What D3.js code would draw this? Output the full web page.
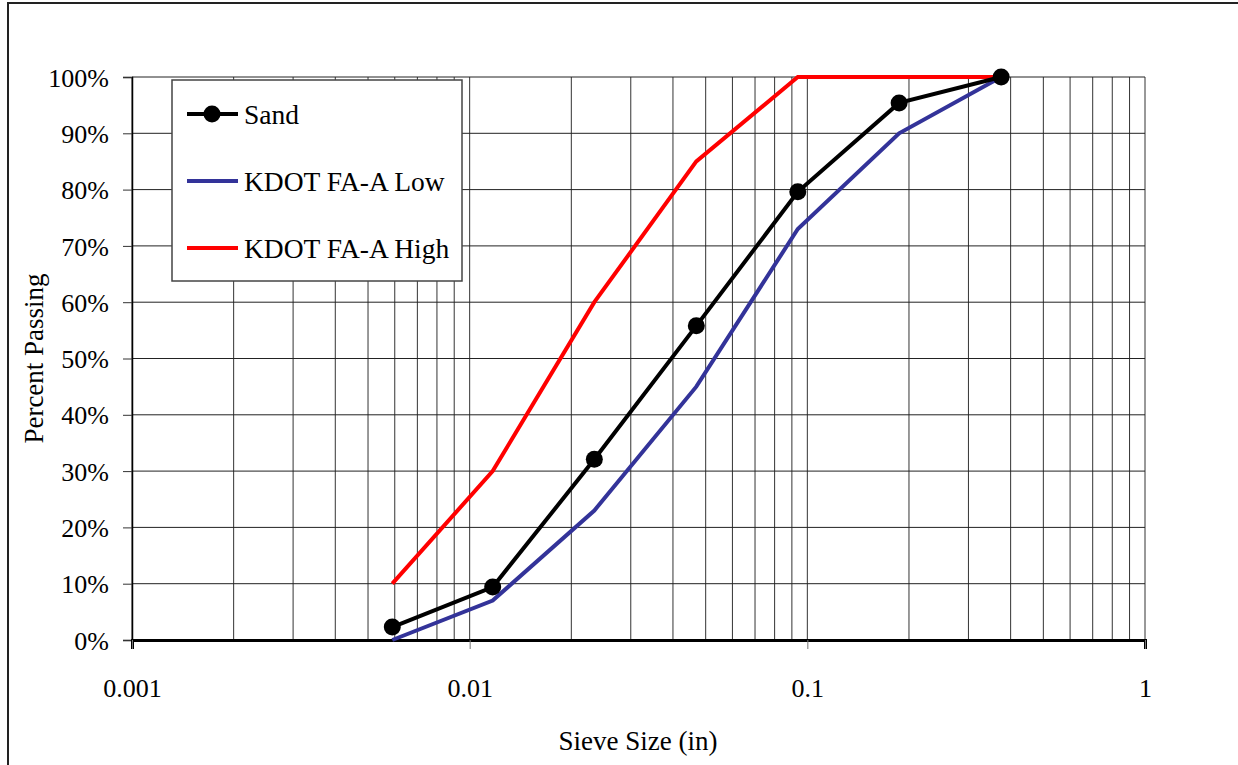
<!DOCTYPE html>
<html>
<head>
<meta charset="utf-8">
<script src="https://cdn.jsdelivr.net/npm/d3@7"></script>
<style>
  body { margin: 0; background: #fff; }
  svg { display: block; font-family: "Liberation Serif", "Times New Roman", serif; }
</style>
</head>
<body>
<svg id="chart" width="1238" height="765"></svg>
<script>
// sieve openings, inches (3/8", #4, #8, #16, #30, #50, #100)
const sieves = [0.375, 0.187, 0.0937, 0.0469, 0.0234, 0.0117, 0.0059]
const sand = [100, 95.4, 79.6, 55.8, 32.1, 9.4, 2.3]
const faLow = [100, 90, 73, 45, 23, 7, 0]
const faHigh = [100, 100, 100, 85, 60, 30, 10]
const yTicks = [0, 10, 20, 30, 40, 50, 60, 70, 80, 90, 100]
const xMajor = [0.001, 0.01, 0.1, 1]
const xLabels = ["0.001", "0.01", "0.1", "1"]

const margin = {top: 77, right: 93, bottom: 125, left: 132}
const width = 1238, height = 765

const svg = d3.select("#chart")

const x = d3.scaleLog()
    .domain([0.001, 1])
    .range([margin.left, width - margin.right])

const y = d3.scaleLinear()
    .domain([0, 100])
    .range([height - margin.bottom, margin.top])

// outer frame
svg.append("rect")
    .attr("x", 8).attr("y", 3)
    .attr("width", width + 20).attr("height", height + 20)
    .attr("fill", "none").attr("stroke", "#222").attr("stroke-width", 2)

// minor + major vertical grid
const xGrid = []
for (let e = -3; e < 0; e++) {
  for (let m = 1; m < 10; m++) xGrid.push(m * Math.pow(10, e))
}
xGrid.push(1)

svg.append("g")
  .selectAll("line")
  .data(xGrid)
  .join("line")
    .attr("x1", d => x(d)).attr("x2", d => x(d))
    .attr("y1", y(100)).attr("y2", y(0))
    .attr("stroke", "#333").attr("stroke-width", 1)

svg.append("g")
  .selectAll("line")
  .data(yTicks)
  .join("line")
    .attr("x1", x(0.001)).attr("x2", x(1))
    .attr("y1", d => y(d)).attr("y2", d => y(d))
    .attr("stroke", "#222").attr("stroke-width", 1)

// y axis
svg.append("g")
    .attr("transform", `translate(${margin.left},0)`)
    .call(d3.axisLeft(y).tickValues(yTicks).tickSize(9).tickPadding(14).tickFormat(d => d + "%"))
    .call(g => g.attr("font-family", null))
    .call(g => g.select(".domain").attr("stroke", "#000").attr("stroke-width", 1.5))
    .call(g => g.selectAll(".tick line").attr("stroke", "#333"))
    .call(g => g.selectAll("text").attr("font-size", 26).attr("fill", "#000").attr("dy", "0.35em"))

// x axis
svg.append("g")
    .attr("transform", `translate(0,${height - margin.bottom})`)
    .call(d3.axisBottom(x).tickValues(xMajor).tickSize(9).tickPadding(30).tickFormat((d, i) => xLabels[i]))
    .call(g => g.attr("font-family", null))
    .call(g => g.select(".domain").attr("stroke", "#000").attr("stroke-width", 3))
    .call(g => g.selectAll(".tick line").attr("stroke", "#777"))
    .call(g => g.selectAll("text").attr("font-size", 26).attr("fill", "#000"))

// axis titles
svg.append("text")
    .attr("transform", `translate(43,${(y(0) + y(100)) / 2}) rotate(-90)`)
    .attr("text-anchor", "middle")
    .attr("font-size", 27)
    .text("Percent Passing")

svg.append("text")
    .attr("x", 638).attr("y", 750)
    .attr("text-anchor", "middle")
    .attr("font-size", 27)
    .text("Sieve Size (in)")

const line = d3.line()
    .x((d, i) => x(sieves[i]))
    .y(d => y(d))

svg.append("path").datum(faLow)
    .attr("d", line).attr("fill", "none")
    .attr("stroke", "#333399").attr("stroke-width", 4)

svg.append("path").datum(faHigh)
    .attr("d", line).attr("fill", "none")
    .attr("stroke", "#ff0000").attr("stroke-width", 4)

svg.append("path").datum(sand)
    .attr("d", line).attr("fill", "none")
    .attr("stroke", "#000").attr("stroke-width", 4)

svg.append("g")
  .selectAll("circle")
  .data(sand)
  .join("circle")
    .attr("cx", (d, i) => x(sieves[i]))
    .attr("cy", d => y(d))
    .attr("r", 8.5)
    .attr("fill", "#000")

// legend
const legendItems = [
  {name: "Sand", color: "#000", marker: true},
  {name: "KDOT FA-A Low", color: "#333399", marker: false},
  {name: "KDOT FA-A High", color: "#ff0000", marker: false}
]

const legend = svg.append("g").attr("transform", "translate(172,80)")
legend.append("rect")
    .attr("width", 290).attr("height", 201)
    .attr("fill", "#fff").attr("stroke", "#444").attr("stroke-width", 1.5)

const item = legend.selectAll("g.item")
  .data(legendItems)
  .join("g")
    .attr("class", "item")
    .attr("transform", (d, i) => `translate(0,${34 + i * 67})`)

item.append("line")
    .attr("x1", 15).attr("x2", 66)
    .attr("stroke", d => d.color).attr("stroke-width", 4)

item.filter(d => d.marker).append("circle")
    .attr("cx", 40).attr("r", 8.5).attr("fill", "#000")

item.append("text")
    .attr("x", 72).attr("dy", "0.35em")
    .attr("font-size", 27.5)
    .text(d => d.name)
</script>
</body>
</html>
